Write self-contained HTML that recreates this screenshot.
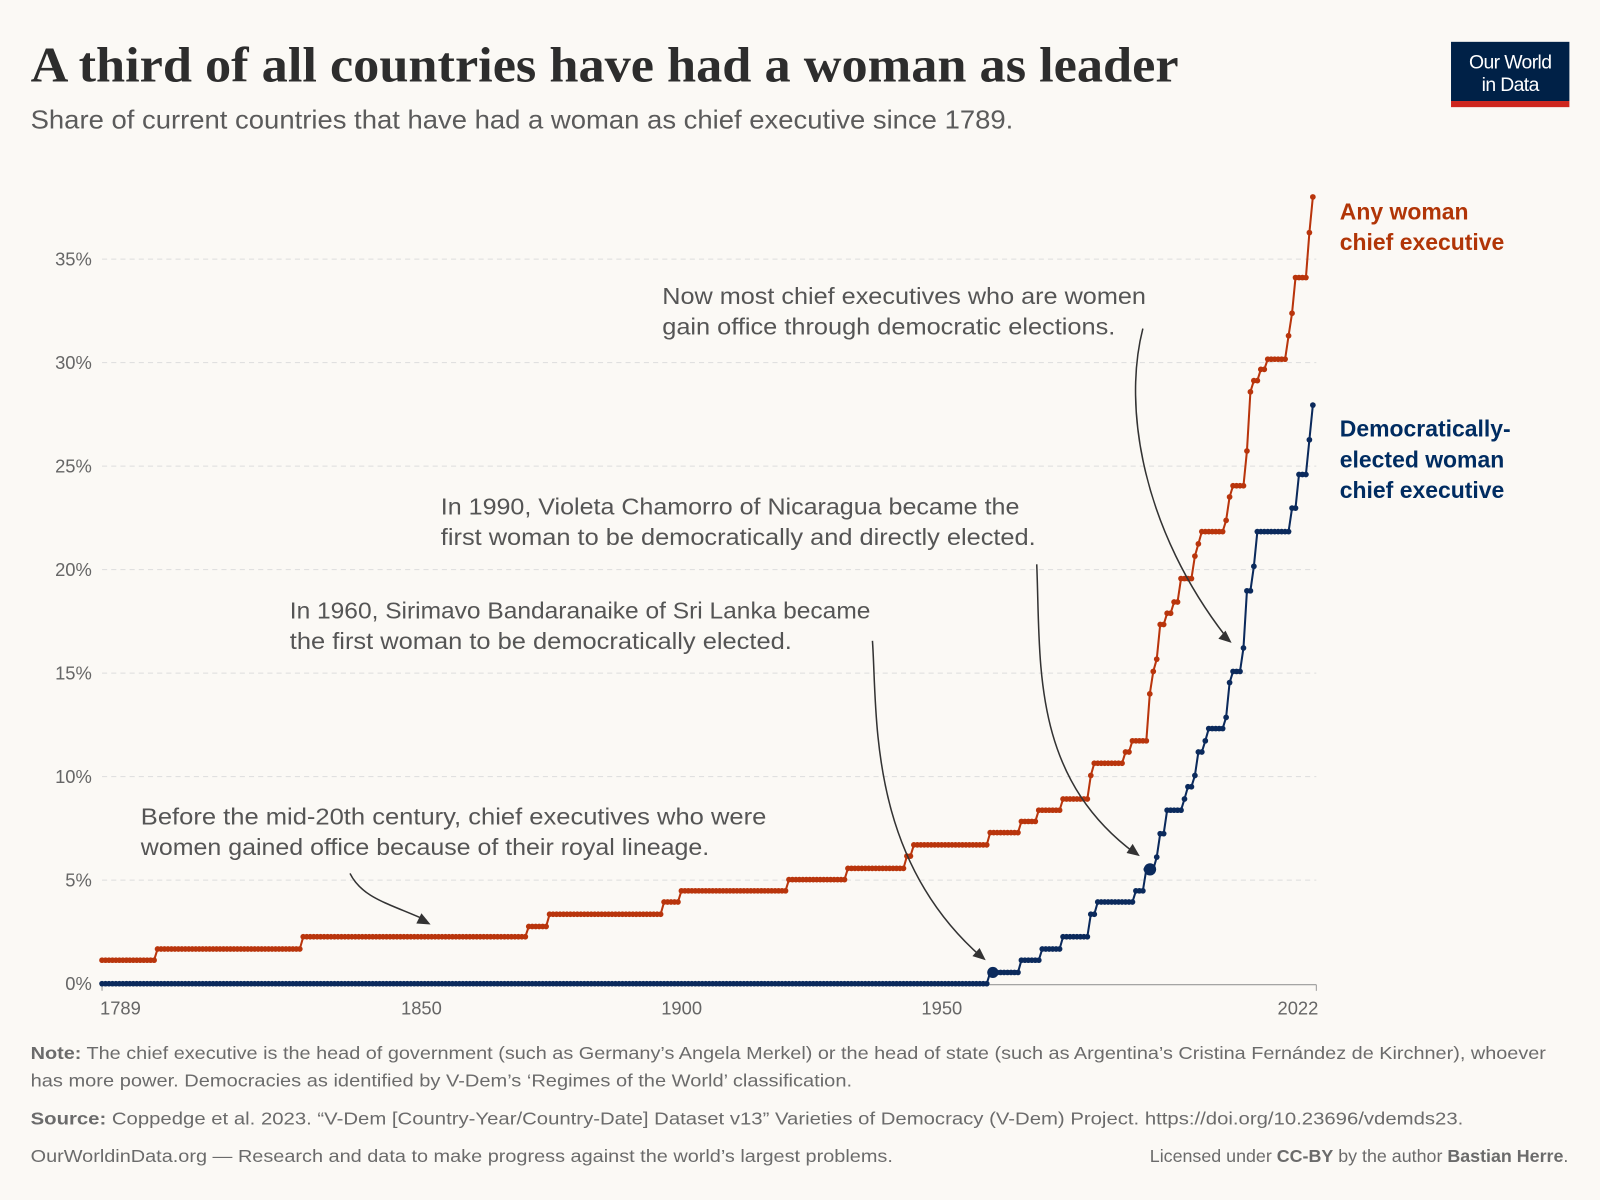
<!DOCTYPE html>
<html><head><meta charset="utf-8"><style>
html,body{margin:0;padding:0;background:#fbf9f5;}
svg{display:block;}
text{font-family:"Liberation Sans",sans-serif;}
</style></head><body>
<svg id="s" width="1600" height="1200" viewBox="0 0 1568 1176" xmlns="http://www.w3.org/2000/svg">
<rect width="1568" height="1176" fill="#fbf9f5"/>
<text x="30" y="80" font-weight="bold" font-size="49" fill="#2d2d2d" style="font-family:'Liberation Serif',serif" textLength="1125" lengthAdjust="spacingAndGlyphs">A third of all countries have had a woman as leader</text>
<text x="30" y="126" font-size="25" fill="#5b5b5b" textLength="963" lengthAdjust="spacingAndGlyphs">Share of current countries that have had a woman as chief executive since 1789.</text>
<rect x="1422" y="41" width="116" height="58" fill="#002147"/>
<rect x="1422" y="99" width="116" height="6" fill="#ce261e"/>
<text x="1480" y="67" font-size="19" fill="#fff" text-anchor="middle" letter-spacing="-0.6">Our World</text>
<text x="1480" y="89" font-size="19" fill="#fff" text-anchor="middle" letter-spacing="-0.6">in Data</text>
<g id="grid" stroke="#dddddd" stroke-dasharray="5,4" stroke-width="1"></g>
<g id="ylab" font-size="18" fill="#666" text-anchor="end"></g>
<line x1="100" y1="965" x2="1290" y2="965" stroke="#999" stroke-width="1"/>
<g stroke="#999"><line x1="100" y1="965" x2="100" y2="971"/><line x1="1290" y1="965" x2="1290" y2="971"/></g>
<g font-size="18" fill="#666"><text x="98" y="994">1789</text><text x="413" y="994" text-anchor="middle">1850</text><text x="668" y="994" text-anchor="middle">1900</text><text x="923" y="994" text-anchor="middle">1950</text><text x="1292" y="994" text-anchor="end">2022</text></g>
<g id="series"></g>
<g fill="none" stroke="#333" stroke-width="1.5">
<path d="M343 856 C355 880 380 885 418 902"/>
<path d="M855 628 C860 700 850 840 962 938"/>
<path d="M1016 553 C1020 650 1010 760 1112 836"/>
<path d="M1120 322 C1100 400 1120 520 1203 626"/>
</g>
<g fill="#333">
<path d="M422 906 l-14 -1 l5 -10 z"/>
<path d="M966 941 l-13 -4 l7 -8 z"/>
<path d="M1117 839 l-13 -3 l6 -9 z"/>
<path d="M1207 630 l-13 -4 l7 -8 z"/>
</g>
<g font-size="22.5" fill="#555" lengthAdjust="spacingAndGlyphs">
<text x="138" y="808" textLength="613" lengthAdjust="spacingAndGlyphs">Before the mid-20th century, chief executives who were</text>
<text x="138" y="838" textLength="557" lengthAdjust="spacingAndGlyphs">women gained office because of their royal lineage.</text>
<text x="284" y="606" textLength="569" lengthAdjust="spacingAndGlyphs">In 1960, Sirimavo Bandaranaike of Sri Lanka became</text>
<text x="284" y="636" textLength="492" lengthAdjust="spacingAndGlyphs">the first woman to be democratically elected.</text>
<text x="432" y="504" textLength="567" lengthAdjust="spacingAndGlyphs">In 1990, Violeta Chamorro of Nicaragua became the</text>
<text x="432" y="534" textLength="583" lengthAdjust="spacingAndGlyphs">first woman to be democratically and directly elected.</text>
<text x="649" y="298" textLength="474" lengthAdjust="spacingAndGlyphs">Now most chief executives who are women</text>
<text x="649" y="328" textLength="444" lengthAdjust="spacingAndGlyphs">gain office through democratic elections.</text>
</g>
<g font-size="22.5" font-weight="bold">
<text x="1313" y="215" fill="#b13507">Any woman</text>
<text x="1313" y="245" fill="#b13507">chief executive</text>
<text x="1313" y="428" fill="#002c61">Democratically-</text>
<text x="1313" y="458" fill="#002c61">elected woman</text>
<text x="1313" y="488" fill="#002c61">chief executive</text>
</g>
<g font-size="17.5" fill="#6b6b6b">
<text x="30" y="1038" textLength="1485" lengthAdjust="spacingAndGlyphs"><tspan font-weight="bold">Note:</tspan> The chief executive is the head of government (such as Germany’s Angela Merkel) or the head of state (such as Argentina’s Cristina Fernández de Kirchner), whoever</text>
<text x="30" y="1065" textLength="805" lengthAdjust="spacingAndGlyphs">has more power. Democracies as identified by V-Dem’s ‘Regimes of the World’ classification.</text>
<text x="30" y="1102" textLength="1404" lengthAdjust="spacingAndGlyphs"><tspan font-weight="bold">Source:</tspan> Coppedge et al. 2023. “V-Dem [Country-Year/Country-Date] Dataset v13” Varieties of Democracy (V-Dem) Project. https://doi.org/10.23696/vdemds23.</text>
<text x="30" y="1139" textLength="845" lengthAdjust="spacingAndGlyphs">OurWorldinData.org — Research and data to make progress against the world’s largest problems.</text>
<text x="1537" y="1139" text-anchor="end">Licensed under <tspan font-weight="bold">CC-BY</tspan> by the author <tspan font-weight="bold">Bastian Herre</tspan>.</text>
</g>
</svg>
<script>
var NS="http://www.w3.org/2000/svg";
function el(t,a,p){var e=document.createElementNS(NS,t);for(var k in a)e.setAttribute(k,a[k]);p.appendChild(e);return e;}
var g=document.getElementById('grid'),yl=document.getElementById('ylab');
for(var i=0;i<=7;i++){var y=964-i*101.43;if(i>0)el('line',{x1:100,x2:1290,y1:y,y2:y},g);var t=el('text',{x:90,y:y+6},yl);t.textContent=i*5+'%';}
var red=[[100,941],[153,930],[297,918],[517,908],[537,896],[649,884],[665,873],[771,862],[828,851],[888,839],[893,828],[970,816],[1001,805],[1018,794],[1040,783],[1068,760],[1072,748],[1102,737],[1108,726],[1124,680],[1127,658],[1132,646],[1137,612],[1142,601],[1150,590],[1156,567],[1168,545],[1172,533],[1177,521],[1199,510],[1203,487],[1208,476],[1220,442],[1224,384],[1228,373],[1233,362],[1242,352],[1260,329],[1265,307],[1269,272],[1281,228],[1284,193],[1289,193]];
var blue=[[100,964],[970,953],[1000,941],[1020,930],[1040,918],[1067,896],[1075,884],[1112,873],[1123,852],[1127,852],[1131,840],[1136,817],[1142,794],[1158,783],[1162,771],[1168,760],[1172,737],[1178,726],[1182,714],[1199,703],[1203,669],[1207,658],[1218,635],[1222,579],[1227,555],[1232,521],[1266,498],[1270,465],[1280,431],[1284,397],[1289,397]];
function draw(d,c){
 var S=document.getElementById('series');var pts=[];
 for(var x=100;x<=1290;x+=3.4){var y=d[0][1];for(var j=0;j<d.length;j++)if(d[j][0]<=x+0.01)y=d[j][1];pts.push([x,y]);}
 el('polyline',{points:pts.map(function(p){return p.join(',')}).join(' '),fill:'none',stroke:c,'stroke-width':2},S);
 pts.forEach(function(p){el('circle',{cx:p[0],cy:p[1],r:2.8,fill:c},S);});
}
draw(red,'#b9350c');draw(blue,'#0b2a5c');
var S=document.getElementById('series');
el('circle',{cx:973,cy:953,r:5.5,fill:'#0b2a5c'},S);el('circle',{cx:1127,cy:852,r:6,fill:'#0b2a5c'},S);
</script>
</body></html>
